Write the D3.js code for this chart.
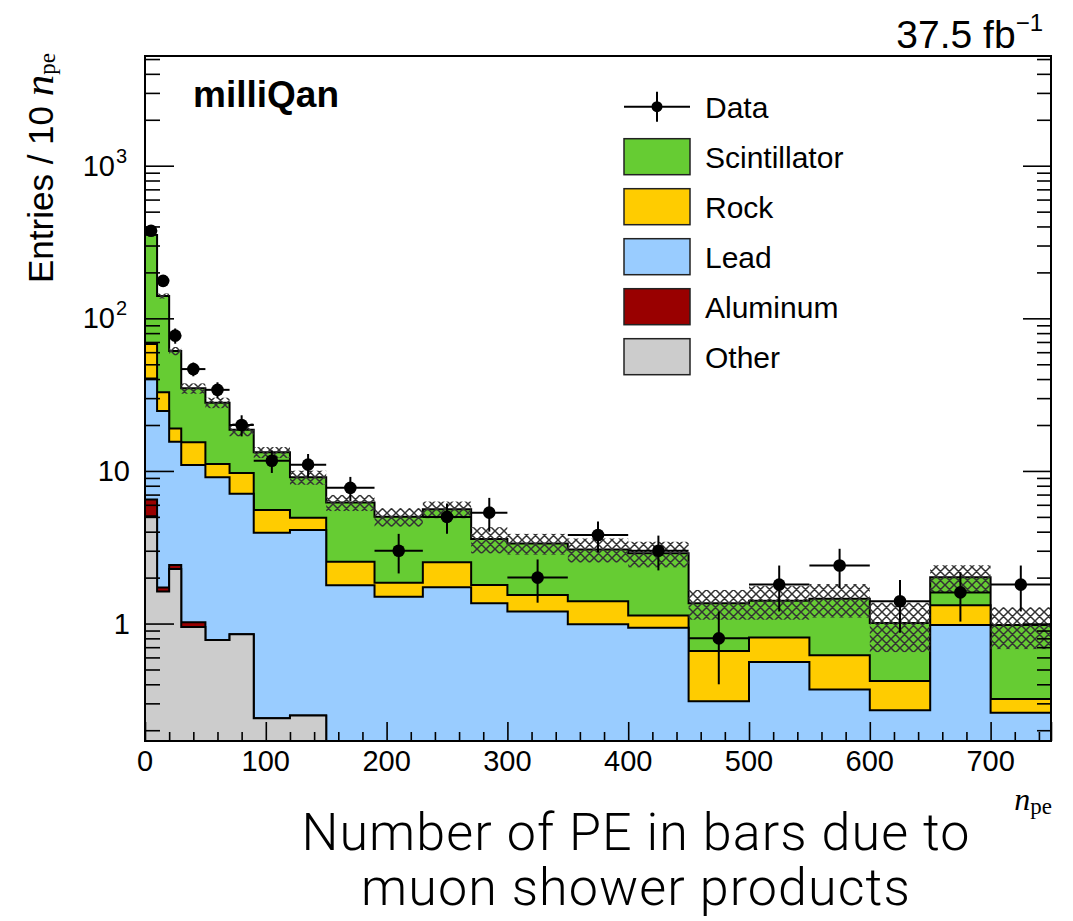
<!DOCTYPE html>
<html>
<head>
<meta charset="utf-8">
<script src="https://cdn.jsdelivr.net/npm/d3@7"></script>
<style>
  html, body { margin: 0; padding: 0; background: #ffffff; }
  svg { display: block; }
  text { font-family: "Liberation Sans", Arial, Helvetica, sans-serif; fill: #000; }
</style>
</head>
<body>
<svg id="chart" width="1073" height="921"></svg>
<script>
// Variable-width binning in n_pe
const binEdges = [0, 10, 20, 30, 50, 70, 90, 120, 150, 190, 230, 270, 300, 350, 400, 450, 500, 550, 600, 650, 700, 750];

// Simulated contributions (entries / 10 n_pe), stacked bottom to top
const other        = [5.04, 1.62, 2.28, 0.95, 0.78, 0.85, 0.24, 0.25, 0, 0, 0, 0, 0, 0, 0, 0, 0, 0, 0, 0, 0];
const aluminum     = [1.47, 0.10, 0.14, 0.07, 0, 0, 0, 0, 0, 0, 0, 0, 0, 0, 0, 0, 0, 0, 0, 0, 0];
const lead         = [33.9, 23.0, 13.1, 9.9, 8.3, 6.24, 3.70, 3.85, 1.78, 1.50, 1.73, 1.36, 1.20, 0.99, 0.94, 0.31, 0.56, 0.37, 0.27, 0.98, 0.26];
const rock         = [27.4, 8.04, 3.48, 4.49, 2.02, 2.60, 1.60, 0.84, 0.76, 0.35, 0.79, 0.43, 0.34, 0.41, 0.19, 0.35, 0.25, 0.25, 0.15, 0.34, 0.06];
const scintillator = [283.6, 107.3, 42.05, 19.36, 16.89, 8.96, 7.70, 4.14, 3.67, 3.16, 3.08, 1.79, 1.81, 1.66, 1.755, 0.70, 0.60, 0.835, 0.59, 0.69, 0.66];

// Total simulation uncertainty (absolute, symmetric)
const mcUncertainty = [4, 5.4, 3.8, 2.7, 2.2, 1.8, 1.1, 0.96, 0.75, 0.7, 0.7, 0.7, 0.52, 0.55, 0.55, 0.3, 0.35, 0.36, 0.36, 0.4, 0.3];

// Observed data with statistical uncertainty
const dataValues = [375, 176, 77, 46.5, 34, 20, 11.67, 11.0, 7.75, 3.0, 5.0, 5.33, 2.0, 3.8, 3.0, 0.8, 1.8, 2.4, 1.4, 1.6, 1.8];
const dataErrors = [19.4, 13.3, 8.8, 4.8, 4.1, 3.16, 1.97, 1.91, 1.39, 0.87, 1.12, 1.33, 0.63, 0.87, 0.77, 0.4, 0.6, 0.69, 0.53, 0.57, 0.6];

// Legend and axis labels
const stackNames  = ["Other", "Aluminum", "Lead", "Rock", "Scintillator"];
const stackColors = ["#cccccc", "#990000", "#99ccff", "#ffcc00", "#66cc33"];
const legendLabels = ["Data", "Scintillator", "Rock", "Lead", "Aluminum", "Other"];
const xTickValues = [0, 100, 200, 300, 400, 500, 600, 700];
const yTickValues = [1, 10, 100, 1000];
const yTickBase = ["1", "10", "10", "10"];
const yTickExponent = ["", "", "2", "3"];

const svg = d3.select("#chart");
const frame = { left: 145, right: 1051, top: 56, bottom: 741 };

const x = d3.scaleLinear().domain([0, 750]).range([frame.left, frame.right]);
const y = d3.scaleLog().domain([0.17, 5235]).range([frame.bottom, frame.top]).clamp(true);

const defs = svg.append("defs");
const hatch = defs.append("pattern")
  .attr("id", "hatch").attr("patternUnits", "userSpaceOnUse")
  .attr("width", 9).attr("height", 9);
hatch.append("path")
  .attr("d", "M0,0L9,9M9,0L0,9M-1,1L1,-1M8,10L10,8M-1,8L1,10M8,-1L10,1")
  .attr("stroke", "#333").attr("stroke-width", 1.5).attr("fill", "none");

defs.append("clipPath").attr("id", "plotClip").append("rect")
  .attr("x", frame.left).attr("y", frame.top)
  .attr("width", frame.right - frame.left).attr("height", frame.bottom - frame.top);

const plot = svg.append("g").attr("clip-path", "url(#plotClip)");

// Cumulative stack heights
const components = [other, aluminum, lead, rock, scintillator];
const nBins = binEdges.length - 1;
const cumulative = components.map((_, k) =>
  d3.range(nBins).map(i => d3.sum(components.slice(0, k + 1), c => c[i])));

const stepPoints = vals => vals.flatMap((v, i) => [
  { x: binEdges[i], v: v }, { x: binEdges[i + 1], v: v }]);

const area = d3.area()
  .x(d => x(d.x))
  .y0(frame.bottom + 3)
  .y1(d => y(Math.max(d.v, 1e-4)));

// Draw the stack from the total downwards so lower layers overlay upper ones
for (let k = components.length - 1; k >= 0; k--) {
  plot.append("path")
    .attr("d", area(stepPoints(cumulative[k])))
    .attr("fill", stackColors[k])
    .attr("stroke", "#000")
    .attr("stroke-width", 2)
    .attr("stroke-linejoin", "miter");
}

// Hatched uncertainty band on the total
const total = cumulative[components.length - 1];
plot.selectAll("rect.unc").data(total).join("rect")
  .attr("class", "unc")
  .attr("x", (d, i) => x(binEdges[i]))
  .attr("width", (d, i) => x(binEdges[i + 1]) - x(binEdges[i]))
  .attr("y", (d, i) => y(d + mcUncertainty[i]))
  .attr("height", (d, i) => y(d - mcUncertainty[i]) - y(d + mcUncertainty[i]))
  .attr("fill", "url(#hatch)");

// Data points
const pts = svg.append("g");
dataValues.forEach((v, i) => {
  const g = pts.append("g");
  const cx = x((binEdges[i] + binEdges[i + 1]) / 2);
  g.append("line")
    .attr("x1", x(binEdges[i])).attr("x2", x(binEdges[i + 1]))
    .attr("y1", y(v)).attr("y2", y(v))
    .attr("stroke", "#000").attr("stroke-width", 2);
  g.append("line")
    .attr("x1", cx).attr("x2", cx)
    .attr("y1", y(v + dataErrors[i])).attr("y2", y(v - dataErrors[i]))
    .attr("stroke", "#000").attr("stroke-width", 2);
  g.append("circle")
    .attr("cx", cx).attr("cy", y(v))
    .attr("r", 6.3).attr("fill", "#000");
});

// Axes (ticks point inwards)
const yMinor = [];
[0.1, 1, 10, 100, 1000].forEach(d => { for (let m = 2; m <= 9; m++) yMinor.push(d * m); });
const yMinorIn = yMinor.filter(v => v >= 0.17 && v <= 5235);
const xMinor = d3.range(0, 751, 20).filter(v => v % 100 !== 0);

function styleAxis(g) {
  g.select(".domain").remove();
  g.selectAll(".tick line").attr("stroke", "#000").attr("stroke-width", 1.6);
  g.selectAll(".tick text").remove();
}

svg.append("g").attr("transform", `translate(0,${frame.bottom})`)
  .call(d3.axisBottom(x).tickValues(xMinor).tickSize(-9).tickFormat("")).call(styleAxis);
svg.append("g").attr("transform", `translate(0,${frame.bottom})`)
  .call(d3.axisBottom(x).tickValues(xTickValues.concat([750])).tickSize(-19).tickFormat("")).call(styleAxis);
svg.append("g").attr("transform", `translate(${frame.left},0)`)
  .call(d3.axisLeft(y).tickValues(yMinorIn).tickSize(-15).tickFormat("")).call(styleAxis);
svg.append("g").attr("transform", `translate(${frame.left},0)`)
  .call(d3.axisLeft(y).tickValues(yTickValues).tickSize(-29).tickFormat("")).call(styleAxis);
svg.append("g").attr("transform", `translate(${frame.right},0)`)
  .call(d3.axisRight(y).tickValues(yMinorIn).tickSize(-14).tickFormat("")).call(styleAxis);
svg.append("g").attr("transform", `translate(${frame.right},0)`)
  .call(d3.axisRight(y).tickValues(yTickValues).tickSize(-28).tickFormat("")).call(styleAxis);

// Frame
svg.append("rect")
  .attr("x", frame.left).attr("y", frame.top)
  .attr("width", frame.right - frame.left).attr("height", frame.bottom - frame.top)
  .attr("fill", "none").attr("stroke", "#000").attr("stroke-width", 2);

// X tick labels
svg.append("g").selectAll("text").data(xTickValues).join("text")
  .attr("x", d => x(d)).attr("y", 771)
  .attr("text-anchor", "middle").attr("font-size", 29)
  .text(d => d);

// Y tick labels (powers of ten)
const yl = svg.append("g");
yTickValues.forEach((v, i) => {
  if (yTickExponent[i]) {
    yl.append("text").attr("x", 115).attr("y", y(v) + 10)
      .attr("text-anchor", "end").attr("font-size", 29).text(yTickBase[i]);
    yl.append("text").attr("x", 116).attr("y", y(v) - 3)
      .attr("font-size", 20).text(yTickExponent[i]);
  } else {
    yl.append("text").attr("x", 130).attr("y", y(v) + 10)
      .attr("text-anchor", "end").attr("font-size", 29).text(yTickBase[i]);
  }
});

// Y axis title
const yt = svg.append("text")
  .attr("transform", "translate(53,53) rotate(-90)")
  .attr("text-anchor", "end");
yt.append("tspan").attr("font-size", 35).text("Entries / 10\u00A0");
yt.append("tspan").attr("font-family", "'Liberation Serif', 'Times New Roman', serif")
  .attr("font-style", "italic").attr("font-size", 43).text("n");
yt.append("tspan").attr("font-family", "'Liberation Serif', 'Times New Roman', serif")
  .attr("font-size", 23).attr("dy", 2).text("pe");

// X axis unit label
const xt = svg.append("text").attr("x", 1052).attr("y", 810).attr("text-anchor", "end");
xt.append("tspan").attr("font-family", "'Liberation Serif', 'Times New Roman', serif")
  .attr("font-style", "italic").attr("font-size", 32).text("n");
xt.append("tspan").attr("font-family", "'Liberation Serif', 'Times New Roman', serif")
  .attr("font-size", 23).attr("dy", 4).text("pe");

// Experiment label and luminosity
svg.append("text").attr("x", 193).attr("y", 107)
  .attr("font-size", 37).attr("font-weight", "bold").text("milliQan");
const lumi = svg.append("text").attr("x", 1043).attr("y", 48).attr("text-anchor", "end");
lumi.append("tspan").attr("font-size", 39).text("37.5 fb");
lumi.append("tspan").attr("font-size", 24).attr("dy", -17).text("\u22121");

// Legend
const legend = svg.append("g");
const rowY = i => 106.7 + 50 * i;
legend.append("line").attr("x1", 624).attr("x2", 690).attr("y1", rowY(0)).attr("y2", rowY(0))
  .attr("stroke", "#000").attr("stroke-width", 2);
legend.append("line").attr("x1", 657).attr("x2", 657).attr("y1", rowY(0) - 15).attr("y2", rowY(0) + 15)
  .attr("stroke", "#000").attr("stroke-width", 2);
legend.append("circle").attr("cx", 657).attr("cy", rowY(0)).attr("r", 5.5).attr("fill", "#000");
legendLabels.forEach((name, i) => {
  if (i > 0) {
    const k = stackNames.indexOf(name);
    legend.append("rect").attr("x", 624).attr("y", rowY(i) - 18)
      .attr("width", 66).attr("height", 36)
      .attr("fill", stackColors[k]).attr("stroke", "#222").attr("stroke-width", 1.5);
  }
  legend.append("text").attr("x", 705).attr("y", rowY(i) + 11)
    .attr("font-size", 30).text(name);
});

// Caption below the axis
const cap = svg.append("g");
[["Number of PE in bars due to", 850], ["muon shower products", 905]].forEach(([line, base]) => {
  cap.append("text").attr("x", 636).attr("y", base).attr("text-anchor", "middle")
    .attr("font-size", 52).attr("font-weight", 300).attr("letter-spacing", 1.1)
    .style("font-family", "Roboto, 'Liberation Sans', sans-serif")
    .text(line);
});
</script>
</body>
</html>
